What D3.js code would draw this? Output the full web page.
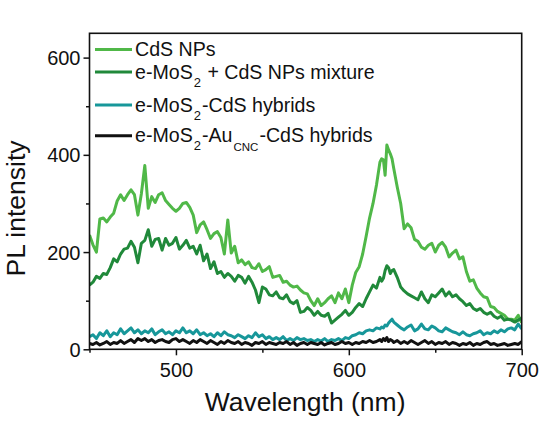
<!DOCTYPE html>
<html>
<head>
<meta charset="utf-8">
<script src="https://cdn.jsdelivr.net/npm/d3@7"></script>
<style>
  html, body { margin: 0; padding: 0; background: #fff; }
  svg { display: block; }
  text { font-family: "Liberation Sans", Arial, sans-serif; fill: #111; }
</style>
</head>
<body>
<svg id="chart" width="543" height="421"></svg>
<script>
// ---------------- data ----------------
const wavelength = [
  450,452,454,456,458,460,462,464,466,468,
  470,472,474,476,478,480,482,484,486,488,
  490,492,494,496,498,500,502,504,506,508,
  510,512,514,516,518,520,522,524,526,528,
  530,532,534,536,538,540,542,544,546,548,
  550,552,554,556,558,560,562,564,566,568,
  570,572,574,576,578,580,582,584,586,588,
  590,592,594,596,598,600,602,604,606,608,
  610,612,614,616,618,619,620,621,622,623,
  624,625,626,628,630,632,634,636,638,640,
  642,644,646,648,650,652,654,656,658,660,
  662,664,666,668,670,672,674,676,678,680,
  682,684,686,688,690,692,694,696,698,700
];

const cdsNPs = [
  235,215,200,268,270,262,272,280,305,318,
  306,318,328,318,276,320,378,290,314,302,
  318,322,306,298,290,284,290,300,302,292,
  276,240,256,262,246,228,238,242,230,196,
  266,198,212,178,184,174,180,168,166,176,
  160,164,170,148,150,152,138,140,132,128,
  130,122,116,114,100,90,104,90,96,104,
  110,96,116,104,124,96,132,158,170,196,
  232,270,300,338,385,392,390,358,420,410,
  402,392,372,334,300,248,258,250,226,222,
  210,206,214,218,200,214,220,210,190,198,
  204,186,190,160,140,143,126,116,108,106,
  88,86,78,74,70,62,62,60,70,55
];

const mixture = [
  132,138,150,146,156,154,168,186,180,196,
  206,208,222,210,178,218,224,246,212,226,
  228,204,228,214,218,230,206,214,224,208,
  212,196,214,182,196,166,180,156,160,148,
  156,150,140,152,148,136,150,138,122,96,
  128,124,112,110,118,106,104,112,98,94,
  100,76,78,86,80,70,78,70,68,74,
  54,60,66,72,80,70,76,86,94,88,
  104,118,132,126,148,140,146,162,172,168,
  156,162,164,148,128,120,114,110,106,102,
  118,104,96,112,108,116,124,110,118,108,
  112,104,98,90,94,84,80,84,76,72,
  76,68,64,68,60,62,60,56,60,64
];

const hybrids = [
  26,30,22,34,28,38,26,34,30,42,
  32,38,44,34,40,32,38,34,42,30,
  36,40,32,36,30,38,34,44,34,38,
  32,40,30,34,28,32,26,34,28,36,
  30,28,24,30,26,22,28,24,34,26,
  30,22,26,20,24,20,26,18,22,18,
  24,20,22,18,20,16,20,17,22,16,
  20,18,22,18,24,22,28,30,34,32,
  38,40,38,44,42,46,44,50,48,54,
  58,62,56,50,44,40,46,50,38,42,
  52,42,40,48,44,38,36,44,40,36,
  34,30,36,30,28,32,34,38,30,34,
  32,38,34,40,36,42,44,40,52,42
];

const auHybrids = [
  12,10,14,9,12,16,10,14,12,18,
  12,16,20,14,22,18,22,16,20,14,
  18,20,16,14,20,22,16,20,16,12,
  18,14,20,16,12,18,14,10,16,12,
  18,14,12,16,10,14,12,8,14,12,
  16,10,14,12,10,14,12,16,10,14,
  8,12,14,10,14,12,10,14,9,12,
  14,10,12,16,12,14,10,14,12,16,
  14,18,14,16,20,16,22,18,24,16,
  20,18,14,18,12,16,12,18,14,10,
  14,18,12,16,10,14,12,16,10,14,
  12,8,12,10,14,8,12,10,14,16,
  10,12,8,10,12,8,10,12,10,16
];

const seriesNames = ["CdS NPs", "e-MoS2 + CdS NPs mixture", "e-MoS2-CdS hybrids", "e-MoS2-AuCNC-CdS hybrids"];
const seriesColors = ["#50b848", "#20893a", "#17979a", "#111111"];
const seriesValues = [cdsNPs, mixture, hybrids, auHybrids];

const xMajorTicks = [500, 600, 700];
const xMinorTicks = [450, 550, 650];
const yMajorTicks = [0, 200, 400, 600];
const yMinorTicks = [100, 300, 500];
const xDomain = [450, 700];
const yDomain = [0, 650];
const xTitle = "Wavelength (nm)";
const yTitle = "PL intensity";

// ---------------- layout ----------------
const svg = d3.select("#chart");
const mLeft = 89.5, mRight = 521.7, mTop = 33.3, mBottom = 349.3;

const x = d3.scaleLinear().domain(xDomain).range([mLeft, mRight]);
const y = d3.scaleLinear().domain(yDomain).range([mBottom, mTop]);

const plot = svg.append("g");
plot.append("clipPath").attr("id", "clip")
  .append("rect").attr("x", mLeft).attr("y", mTop).attr("width", mRight - mLeft).attr("height", mBottom - mTop);

const line = d3.line()
  .x((d, i) => x(wavelength[i]))
  .y(d => y(d))
  .curve(d3.curveLinear);

const lines = plot.append("g").attr("clip-path", "url(#clip)");
seriesValues.forEach((vals, k) => {
  lines.append("path")
    .datum(vals)
    .attr("d", line)
    .attr("fill", "none")
    .attr("stroke", seriesColors[k])
    .attr("stroke-width", 3)
    .attr("stroke-linejoin", "round");
});

// frame
svg.append("rect")
  .attr("x", mLeft).attr("y", mTop)
  .attr("width", mRight - mLeft).attr("height", mBottom - mTop)
  .attr("fill", "none").attr("stroke", "#111").attr("stroke-width", 1.6);

// axes
const xAxis = svg.append("g").attr("transform", `translate(0,${mBottom})`)
  .call(d3.axisBottom(x).tickValues(xMajorTicks).tickSize(6).tickPadding(4).tickFormat(d3.format("d")));
const xAxisMinor = svg.append("g").attr("transform", `translate(0,${mBottom})`)
  .call(d3.axisBottom(x).tickValues(xMinorTicks).tickSize(3.5).tickFormat(""));
const yAxis = svg.append("g").attr("transform", `translate(${mLeft},0)`)
  .call(d3.axisLeft(y).tickValues(yMajorTicks).tickSize(6).tickPadding(3).tickFormat(d3.format("d")));
const yAxisMinor = svg.append("g").attr("transform", `translate(${mLeft},0)`)
  .call(d3.axisLeft(y).tickValues(yMinorTicks).tickSize(3.5).tickFormat(""));

[xAxis, xAxisMinor, yAxis, yAxisMinor].forEach(g => {
  g.select(".domain").remove();
  g.selectAll(".tick line").attr("stroke", "#111").attr("stroke-width", 1.5);
  g.selectAll(".tick text")
    .attr("font-family", "Liberation Sans, Arial, sans-serif")
    .attr("font-size", 20).attr("fill", "#111");
});
xAxis.selectAll(".tick text").attr("dy", "0.9em");
yAxis.selectAll(".tick text").attr("dy", "0.35em");

// axis titles
svg.append("text")
  .attr("x", (mLeft + mRight) / 2 - 0.5).attr("y", 411)
  .attr("text-anchor", "middle")
  .attr("font-size", 26.5)
  .text(xTitle);

svg.append("text")
  .attr("transform", `translate(25,208.5) rotate(-90)`)
  .attr("text-anchor", "middle")
  .attr("font-size", 26.5)
  .text(yTitle);

// legend
const legendRows = [
  { y: 49.5, parts: [["CdS NPs", 0]] },
  { y: 72, parts: [["e-MoS", 0], ["2", 1], [" + CdS NPs mixture", 0]] },
  { y: 105, parts: [["e-MoS", 0], ["2", 1], ["-CdS hybrids", 0]] },
  { y: 135.7, parts: [["e-MoS", 0], ["2", 1], ["-Au", 0], ["CNC", 2], ["-CdS hybrids", 0]] }
];
const legend = svg.append("g");
legendRows.forEach((row, k) => {
  legend.append("line")
    .attr("x1", 95).attr("x2", 132)
    .attr("y1", row.y).attr("y2", row.y)
    .attr("stroke", seriesColors[k]).attr("stroke-width", 3);
  const t = legend.append("text")
    .attr("x", 135).attr("y", row.y + 6.5)
    .attr("font-size", 19.6);
  let shifted = 0;
  row.parts.forEach(([s, sub]) => {
    const ts = t.append("tspan").text(s);
    if (sub) {
      const off = sub === 1 ? 8 : 9;
      ts.attr("font-size", sub === 1 ? 13 : 11.5).attr("dx", 1).attr("dy", off - shifted);
      shifted = off;
    } else if (shifted) {
      ts.attr("dy", -shifted).attr("dx", 1);
      shifted = 0;
    }
  });
});
</script>
</body>
</html>
